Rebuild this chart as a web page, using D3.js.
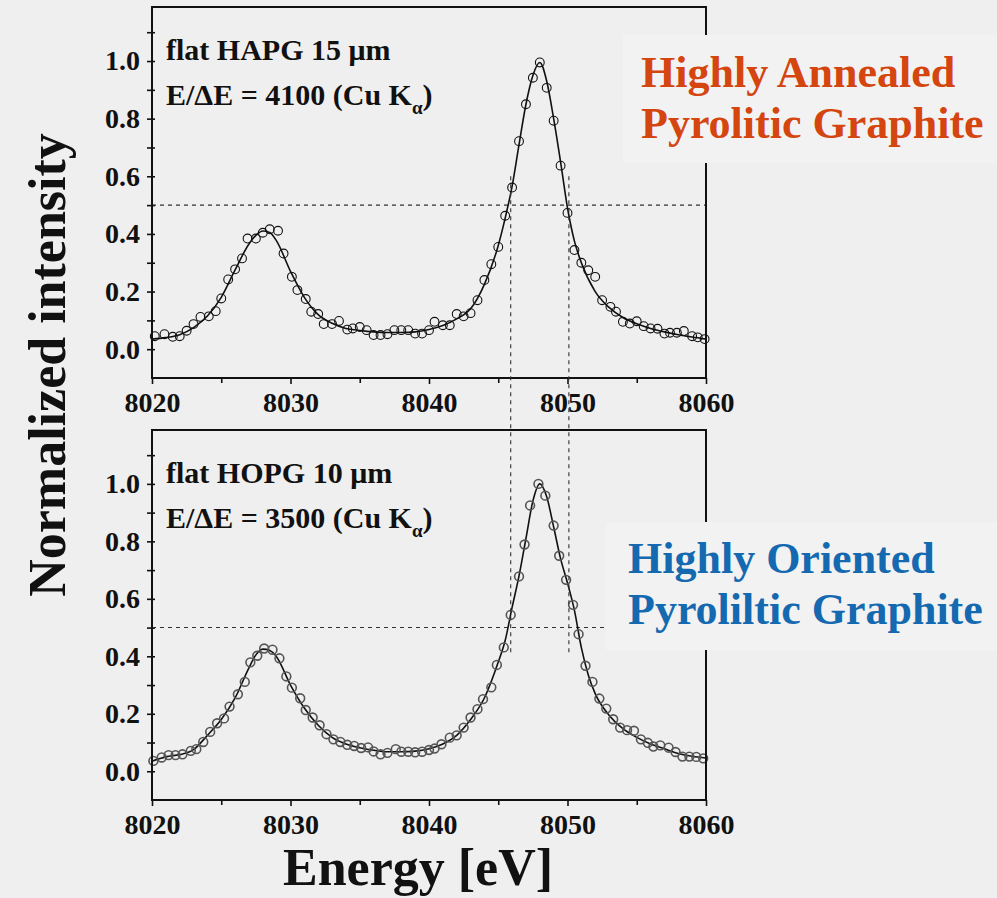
<!DOCTYPE html>
<html>
<head>
<meta charset="utf-8">
<script src="https://cdn.jsdelivr.net/npm/d3@7"></script>
<style>
body { margin: 0; background: #efefef; }
text { font-family: "Liberation Serif", "Times New Roman", serif; }
</style>
</head>
<body>
<svg id="chart" width="997" height="898"></svg>
<script>
// tick values
var xMajor = [8020, 8030, 8040, 8050, 8060];
var xMinor = [8025, 8035, 8045, 8055];
var yMajor = [0.0, 0.2, 0.4, 0.6, 0.8, 1.0];
var yMinor = [0.1, 0.3, 0.5, 0.7, 0.9, 1.1];

// half maximum markers (eV)
var halfMaxE = [8045.9, 8050.1];

// HAPG measured points
var hapgE = [
	8020.2, 8020.9, 8021.5, 8022.0, 8022.5, 8023.0, 8023.5, 8024.1, 8024.6, 8025.0,
	8025.5, 8026.0, 8026.5, 8026.9, 8027.5, 8028.0, 8028.5, 8029.1, 8029.5, 8030.1,
	8030.5, 8031.1, 8031.5, 8032.0, 8032.4, 8033.0, 8033.5, 8034.1, 8034.5, 8035.0,
	8035.5, 8036.0, 8036.5, 8037.0, 8037.5, 8038.0, 8038.5, 8039.0, 8039.5, 8040.0,
	8040.4, 8041.0, 8041.5, 8042.0, 8042.5, 8043.0, 8043.5, 8044.0, 8044.5, 8045.0,
	8045.5, 8046.0, 8046.5, 8047.0, 8047.5, 8048.0, 8048.5, 8049.0, 8049.5, 8050.0,
	8050.5, 8051.0, 8051.5, 8052.0, 8052.5, 8053.1, 8053.5, 8054.0, 8054.5, 8055.0,
	8055.5, 8056.0, 8056.5, 8057.0, 8057.4, 8057.9, 8058.4, 8059.0, 8059.4, 8059.9
];
var hapgI = [
	0.045, 0.052, 0.043, 0.045, 0.064, 0.087, 0.112, 0.114, 0.132, 0.176,
	0.242, 0.277, 0.315, 0.384, 0.384, 0.404, 0.416, 0.411, 0.332, 0.251,
	0.205, 0.174, 0.130, 0.122, 0.087, 0.087, 0.098, 0.068, 0.072, 0.077,
	0.066, 0.049, 0.049, 0.052, 0.066, 0.066, 0.066, 0.054, 0.054, 0.066,
	0.095, 0.083, 0.083, 0.122, 0.114, 0.125, 0.170, 0.240, 0.295, 0.355,
	0.463, 0.561, 0.722, 0.850, 0.942, 0.995, 0.907, 0.793, 0.637, 0.473,
	0.344, 0.300, 0.274, 0.251, 0.170, 0.147, 0.130, 0.095, 0.089, 0.097,
	0.080, 0.072, 0.071, 0.054, 0.057, 0.057, 0.063, 0.045, 0.041, 0.035
];
// HAPG fit curve
var hapgFitE = [8020, 8021, 8022, 8023, 8024, 8025, 8026, 8027, 8027.5, 8028, 8028.5, 8029, 8030, 8031, 8032, 8033, 8034, 8035, 8036, 8037, 8038, 8039, 8040, 8041, 8042, 8043, 8044, 8045, 8045.5, 8046, 8046.5, 8047, 8047.5, 8048, 8048.5, 8049, 8049.5, 8050, 8050.5, 8051, 8052, 8053, 8054, 8055, 8056, 8057, 8058, 8059, 8060];
var hapgFitI = [0.035, 0.040, 0.050, 0.075, 0.115, 0.180, 0.275, 0.365, 0.395, 0.410, 0.405, 0.375, 0.270, 0.180, 0.120, 0.090, 0.072, 0.065, 0.060, 0.058, 0.058, 0.060, 0.068, 0.082, 0.105, 0.140, 0.225, 0.360, 0.455, 0.565, 0.710, 0.850, 0.950, 0.995, 0.930, 0.800, 0.650, 0.490, 0.375, 0.300, 0.200, 0.145, 0.110, 0.088, 0.072, 0.060, 0.050, 0.042, 0.035];

// HOPG measured points
var hopgE = [
	8020.1, 8020.7, 8021.2, 8021.7, 8022.2, 8022.8, 8023.2, 8023.7, 8024.2, 8024.7,
	8025.2, 8025.6, 8026.2, 8026.7, 8027.1, 8027.6, 8028.1, 8028.7, 8029.2, 8029.7,
	8030.1, 8030.7, 8031.1, 8031.6, 8032.1, 8032.6, 8033.1, 8033.6, 8034.1, 8034.6,
	8035.1, 8035.6, 8036.0, 8036.5, 8037.0, 8037.6, 8038.0, 8038.5, 8039.0, 8039.5,
	8040.0, 8040.4, 8040.9, 8041.5, 8042.0, 8042.5, 8043.0, 8043.5, 8043.9, 8044.5,
	8044.9, 8045.4, 8045.9, 8046.5, 8046.9, 8047.3, 8047.9, 8048.4, 8049.0, 8049.4,
	8049.9, 8050.4, 8050.8, 8051.3, 8051.8, 8052.3, 8052.8, 8053.3, 8053.8, 8054.3,
	8054.8, 8055.3, 8055.8, 8056.2, 8056.7, 8057.3, 8057.8, 8058.3, 8058.8, 8059.3,
	8059.8
];
var hopgI = [
	0.036, 0.048, 0.056, 0.056, 0.059, 0.071, 0.077, 0.102, 0.137, 0.167,
	0.184, 0.225, 0.268, 0.311, 0.379, 0.402, 0.427, 0.423, 0.393, 0.330,
	0.291, 0.254, 0.213, 0.187, 0.160, 0.129, 0.111, 0.102, 0.092, 0.088,
	0.081, 0.083, 0.069, 0.059, 0.064, 0.077, 0.068, 0.068, 0.066, 0.068,
	0.074, 0.079, 0.094, 0.117, 0.125, 0.152, 0.187, 0.216, 0.251, 0.292,
	0.370, 0.431, 0.544, 0.678, 0.789, 0.925, 1.000, 0.959, 0.855, 0.750,
	0.666, 0.579, 0.477, 0.367, 0.311, 0.253, 0.218, 0.181, 0.152, 0.143,
	0.141, 0.111, 0.099, 0.086, 0.090, 0.082, 0.067, 0.051, 0.051, 0.050,
	0.045
];
// HOPG fit curve
var hopgFitE = [8020, 8021, 8022, 8023, 8024, 8025, 8026, 8027, 8027.5, 8028, 8028.5, 8029, 8030, 8031, 8032, 8033, 8034, 8035, 8036, 8037, 8038, 8039, 8040, 8041, 8042, 8043, 8044, 8045, 8045.5, 8046, 8046.5, 8047, 8047.5, 8048, 8048.5, 8049, 8049.5, 8050, 8050.5, 8051, 8051.5, 8052, 8053, 8054, 8055, 8056, 8057, 8058, 8059, 8060];
var hopgFitI = [0.035, 0.050, 0.058, 0.075, 0.125, 0.180, 0.255, 0.360, 0.405, 0.425, 0.420, 0.398, 0.300, 0.220, 0.160, 0.118, 0.095, 0.082, 0.073, 0.068, 0.068, 0.070, 0.078, 0.095, 0.125, 0.180, 0.255, 0.380, 0.455, 0.570, 0.680, 0.810, 0.940, 1.000, 0.955, 0.850, 0.740, 0.655, 0.560, 0.430, 0.335, 0.270, 0.195, 0.148, 0.118, 0.095, 0.078, 0.062, 0.052, 0.046];

var panels = [
	{ top: 7, bottom: 378, ptsE: hapgE, ptsI: hapgI, fitE: hapgFitE, fitI: hapgFitI,
	  name: 'flat HAPG 15 \u03bcm', res: 'E/\u0394E = 4100 (Cu K', dot: '#111', dotW: 1.1 },
	{ top: 430, bottom: 800, ptsE: hopgE, ptsI: hopgI, fitE: hopgFitE, fitI: hopgFitI,
	  name: 'flat HOPG 10 \u03bcm', res: 'E/\u0394E = 3500 (Cu K', dot: '#555', dotW: 1.6 }
];

var svg = d3.select('#chart');
svg.append('rect').attr('width', 997).attr('height', 898).attr('fill', '#efefef');

var xScale = d3.scaleLinear().domain([8020, 8060]).range([152, 706]);

panels.forEach(function(p) {
	var yScale = d3.scaleLinear().domain([-0.1, 1.1875]).range([p.bottom, p.top]);
	p.yScale = yScale;
	var g = svg.append('g');

	// minor ticks
	var xm = g.append('g').attr('transform', 'translate(0,' + p.bottom + ')')
		.call(d3.axisBottom(xScale).tickValues(xMinor).tickSize(5).tickFormat(''));
	var ym = g.append('g').attr('transform', 'translate(152,0)')
		.call(d3.axisLeft(yScale).tickValues(yMinor).tickSize(5).tickFormat(''));

	// major ticks
	var xa = g.append('g').attr('transform', 'translate(0,' + p.bottom + ')')
		.call(d3.axisBottom(xScale).tickValues(xMajor).tickSize(6).tickPadding(8).tickFormat(d3.format('d')));
	var ya = g.append('g').attr('transform', 'translate(152,0)')
		.call(d3.axisLeft(yScale).tickValues(yMajor).tickSize(5).tickPadding(7).tickFormat(d3.format('.1f')));

	[xm, ym, xa, ya].forEach(function(a) {
		a.select('.domain').remove();
		a.selectAll('line').attr('stroke', '#111').attr('stroke-width', 1.6);
		a.selectAll('text').attr('fill', '#111').style('font-size', '28px').style('font-weight', 'bold')
			.style('font-family', '"Liberation Serif", serif');
	});
	ym.selectAll('line').attr('x1', 3);
	ya.selectAll('line').attr('x1', 3);

	// half max line
	g.append('line')
		.attr('x1', xScale(8020)).attr('x2', xScale(8060))
		.attr('y1', yScale(0.5)).attr('y2', yScale(0.5))
		.attr('stroke', '#333').attr('stroke-width', 1.1).attr('stroke-dasharray', '4,4');

	// fit curve
	var fit = d3.zip(p.fitE, p.fitI);
	var line = d3.line()
		.x(function(d) { return xScale(d[0]); })
		.y(function(d) { return yScale(d[1]); })
		.curve(d3.curveMonotoneX);
	g.append('path').datum(fit)
		.attr('d', line)
		.attr('fill', 'none').attr('stroke', '#111').attr('stroke-width', 1.6);

	// measured points
	g.selectAll('circle.pt')
		.data(d3.zip(p.ptsE, p.ptsI))
		.enter().append('circle')
			.classed('pt', true)
			.attr('cx', function(d) { return xScale(d[0]); })
			.attr('cy', function(d) { return yScale(d[1]); })
			.attr('r', 4.4)
			.attr('fill', 'none')
			.attr('stroke', p.dot)
			.attr('stroke-width', p.dotW);

	// frame
	g.append('rect')
		.attr('x', 152).attr('y', p.top)
		.attr('width', 706 - 152).attr('height', p.bottom - p.top)
		.attr('fill', 'none').attr('stroke', '#111').attr('stroke-width', 2);

	// panel labels
	g.append('text').attr('x', 166).attr('y', p.top + 53)
		.style('font-size', '30px').style('font-weight', 'bold').attr('fill', '#111')
		.text(p.name);
	var t = g.append('text').attr('x', 166).attr('y', p.top + 98)
		.style('font-size', '30px').style('font-weight', 'bold').attr('fill', '#111');
	t.append('tspan').text(p.res);
	t.append('tspan').attr('dy', 9).style('font-size', '19px').text('\u03b1');
	t.append('tspan').attr('dy', -9).text(')');
});

// vertical half max markers spanning both panels
svg.selectAll('line.fwhm')
	.data(halfMaxE)
	.enter().append('line')
		.classed('fwhm', true)
		.attr('x1', function(d) { return xScale(d); })
		.attr('x2', function(d) { return xScale(d); })
		.attr('y1', panels[0].yScale(0.6))
		.attr('y2', panels[1].yScale(0.4))
		.attr('stroke', '#333').attr('stroke-width', 1.1).attr('stroke-dasharray', '4,4');

// axis titles
svg.append('text')
	.attr('transform', 'translate(65,365) rotate(-90)')
	.attr('text-anchor', 'middle')
	.style('font-size', '52px').style('font-weight', 'bold').attr('fill', '#111')
	.text('Normalized intensity');
svg.append('text')
	.attr('x', 418).attr('y', 885)
	.attr('text-anchor', 'middle')
	.style('font-size', '52px').style('font-weight', 'bold').attr('fill', '#111')
	.text('Energy [eV]');

// material notes
svg.append('rect').attr('x', 623).attr('y', 35).attr('width', 374).attr('height', 128).attr('fill', '#f2f2f2');
svg.append('rect').attr('x', 606).attr('y', 522).attr('width', 391).attr('height', 128).attr('fill', '#f2f2f2');

var notes = [
	{ x: 641, y: 87, color: '#d5450f', lines: ['Highly Annealed', 'Pyrolitic Graphite'] },
	{ x: 628, y: 573, color: '#1469b0', lines: ['Highly Oriented', 'Pyroliltic Graphite'] }
];
notes.forEach(function(n) {
	n.lines.forEach(function(s, i) {
		svg.append('text')
			.attr('x', n.x).attr('y', n.y + i * 51)
			.style('font-size', '44px').style('font-weight', 'bold')
			.attr('fill', n.color)
			.text(s);
	});
});
</script>
</body>
</html>
